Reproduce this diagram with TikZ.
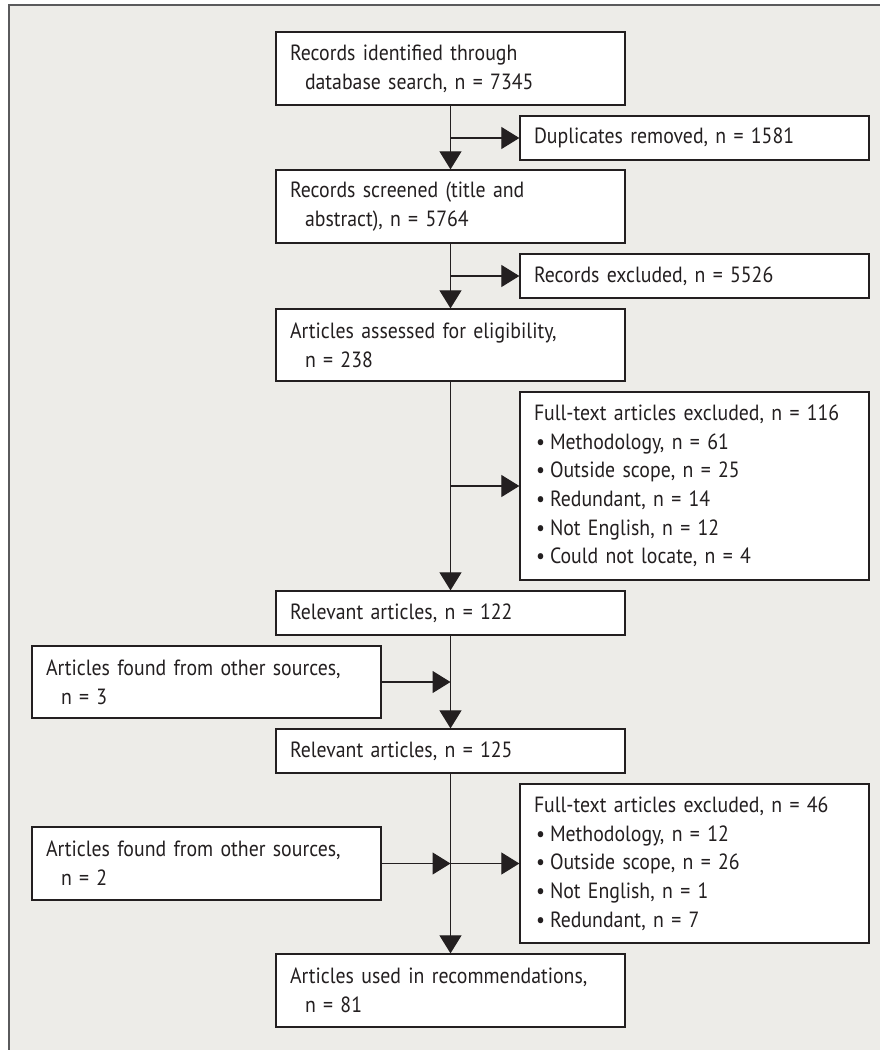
\documentclass[tikz,border=0pt]{standalone}
\usepackage{fontspec}
\setmainfont{PT Sans}[FakeStretch=0.9]
\usetikzlibrary{arrows.meta}
\definecolor{bggray}{RGB}{237,236,232}
\definecolor{framegray}{RGB}{90,90,92}
\definecolor{ink}{RGB}{35,31,32}
\newcommand\ind{\hspace*{15pt}}
\newcommand\bul{\makebox[16pt][l]{\hspace{2pt}\textbullet}}
\begin{document}
\begin{tikzpicture}[x=1pt,y=-1pt,font=\fontsize{22}{28.7}\selectfont,
  box/.style={draw=ink,fill=white,line width=1.3pt,text=ink,text width=321pt,
    inner xsep=14pt,inner ysep=0pt,align=left,minimum height=44pt},
  arr/.style={draw=ink,line width=1.1pt,-{Triangle[length=18pt,width=22pt]}}]
\useasboundingbox (0,0) rectangle (880,1050);
\fill[bggray] (8.7,4.7) rectangle (880,1050);
\draw[framegray,line width=1.7pt] (8.7,1050) -- (8.7,4.7) -- (880,4.7);
\node[box,minimum height=73pt] (rec) at (450.5,68.5) {Records identified through\\\ind database search, n = 7345};
\node[box] (dup) at (694.5,138) {Duplicates removed, n = 1581};
\node[box,minimum height=73pt] (scr) at (450.5,206.5) {Records screened (title and\\\ind abstract), n = 5764};
\node[box] (exc) at (694.5,276) {Records excluded, n = 5526};
\node[box,minimum height=72pt] (ass) at (450.5,345) {Articles assessed for eligibility,\\\ind n = 238};
\node[box,minimum height=188pt] (ftA) at (694.5,486) {Full-text articles excluded, n = 116\\\bul Methodology, n = 61\\\bul Outside scope, n = 25\\\bul Redundant, n = 14\\\bul Not English, n = 12\\\bul Could not locate, n = 4};
\node[box] (relA) at (450.5,613) {Relevant articles, n = 122};
\node[box,minimum height=72pt] (othA) at (206.5,682) {Articles found from other sources,\\\ind n = 3};
\node[box] (relB) at (450.5,751) {Relevant articles, n = 125};
\node[box,minimum height=159pt] (ftB) at (694.5,863.5) {Full-text articles excluded, n = 46\\\bul Methodology, n = 12\\\bul Outside scope, n = 26\\\bul Not English, n = 1\\\bul Redundant, n = 7};
\node[box,minimum height=73pt] (othB) at (206.5,863.5) {Articles found from other sources,\\\ind n = 2};
\node[box,minimum height=73pt] (used) at (450.5,990.5) {Articles used in recommendations,\\\ind n = 81};
\foreach \a/\b in {rec/scr,scr/ass,ass/relA,relA/relB,relB/used}
\draw[arr] (\a) -- (\b);
\foreach \a/\b in {rec/dup,scr/exc,ass/ftA,relB/ftB}
\draw[arr] (\a.south |- \b) -- (\b);
\foreach \a/\b in {othA/relA,othB/relB}
\draw[arr] (\a) -- (\a -| \b.south);
\end{tikzpicture}
\end{document}
